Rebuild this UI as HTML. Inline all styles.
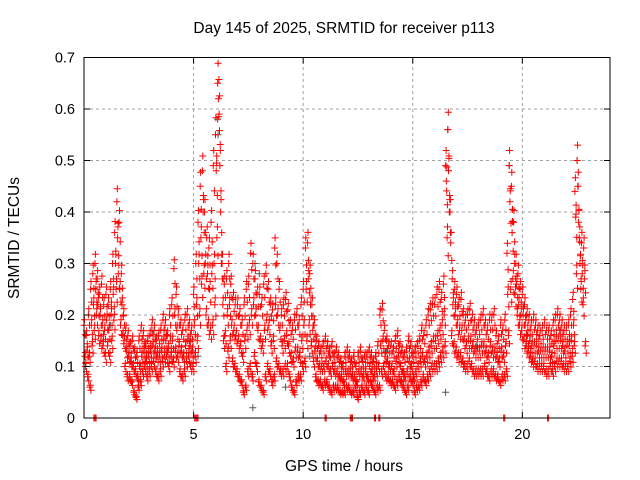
<!DOCTYPE html>
<html><head><meta charset="utf-8"><style>
body{margin:0;background:#fff;}
svg{display:block;font-family:"Liberation Sans",sans-serif;}
</style></head><body>
<svg id="chart" width="640" height="480" viewBox="0 0 640 480">
<rect width="640" height="480" fill="#fff"/>
<text x="344" y="33" text-anchor="middle" font-size="15.5" fill="#000">Day 145 of 2025, SRMTID for receiver p113</text>
<text x="344" y="471" text-anchor="middle" font-size="15.5" fill="#000">GPS time / hours</text>
<text transform="translate(19,238) rotate(-90)" text-anchor="middle" font-size="15.5" fill="#000">SRMTID / TECUs</text>
<g id="grid"></g>
<g id="gray"></g>
<g id="red"></g>
<g id="axes"></g>
</svg>
<script>
const xTicks=[0,5,10,15,20];
const yTicks=[0,0.1,0.2,0.3,0.4,0.5,0.6,0.7];
const yTickLabels=["0","0.1","0.2","0.3","0.4","0.5","0.6","0.7"];
const seriesA=[18,16,20,25,28,30,27,24,26,22,24,22,25,30,36,42,38,28,20,17,16,14,15,13,12,15,17,16,14,15,16,18,17,15,16,17,19,18,16,20,22,29,24,20,18,17,19,20,18,17,24,30,38,45,48,40,35,33,38,49,55,65,49,30,26,27,30,26,23,22,22,20,18,22,25,26,32,30,27,24,24,22,26,28,25,22,21,33,30,25,20,22,23,21,18,17,19,20,18,22,25,33,34,28,22,18,15,14,13,14,15,14,13,14,12,13,12,11,10,12,13,12,11,12,10,12,13,11,12,12,13,12,11,12,14,20,21,17,15,14,14,13,15,16,14,13,12,13,15,14,12,13,14,15,17,16,18,20,21,22,22,24,25,23,26,49,56,40,27,25,24,22,23,20,19,20,21,19,18,17,18,19,20,18,17,19,19,20,16,15,18,17,19,32,49,45,38,30,28,25,24,22,20,19,18,19,18,17,16,17,18,17,17,16,18,19,20,19,18,17,17,18,20,23,44,50,35,34,33];
const seriesB=[12,13,12,18,22,25,22,20,18,17,19,17,20,24,30,35,25,22,15,13,12,11,10,9,8,10,12,13,11,12,13,14,13,12,12,13,15,15,13,15,15,20,17,14,13,12,14,15,14,13,18,22,30,35,40,30,28,25,28,30,48,62,40,22,16,20,22,18,17,16,15,14,12,15,17,18,20,22,20,17,15,14,17,19,18,14,15,22,20,17,14,15,16,14,12,11,13,13,12,15,18,25,27,22,17,13,11,10,10,10,11,10,9,10,9,9,8,8,7,9,9,9,8,8,7,9,9,8,9,8,10,9,8,9,10,14,15,12,11,10,10,9,11,12,10,9,8,9,11,10,8,9,10,11,12,11,12,13,14,15,15,16,17,18,20,46,48,34,22,20,18,17,17,15,14,15,15,14,13,13,13,14,14,13,12,14,13,13,12,11,13,12,14,24,42,36,30,26,22,20,20,18,16,15,14,14,14,13,13,13,13,13,13,12,14,15,15,15,14,13,14,14,15,18,39,45,30,28,27];
const seriesC=[10,8,6,14,17,20,16,15,14,12,14,12,15,19,25,28,18,16,10,8,8,7,5,4,6,7,9,10,8,9,10,11,9,8,9,11,12,12,10,12,11,13,12,9,8,9,11,12,10,10,12,15,20,26,28,20,18,17,18,22,35,59,30,15,10,13,15,11,10,9,8,7,5,6,9,10,8,12,10,7,6,5,8,10,9,7,8,11,10,9,9,10,10,8,6,5,7,8,8,10,11,15,18,14,11,8,7,7,6,7,7,6,5,6,6,6,5,5,5,6,6,5,5,6,4,5,6,5,6,5,7,6,5,6,6,9,10,8,8,7,7,6,7,8,7,6,5,6,8,7,5,6,6,7,8,7,8,9,10,10,10,11,12,13,14,35,40,16,14,13,12,12,11,10,10,11,10,9,9,9,9,9,10,9,8,9,9,8,8,7,8,8,9,16,25,27,24,20,18,17,15,14,13,12,11,11,10,10,10,10,9,9,10,9,10,11,11,11,10,10,10,11,12,14,28,38,25,22,14];
const grayT=[6.1,6.12,16.6,19.4,22.5,7.7,7.8,8.0,5.2,9.2,16.5,11.2,3.1,4.8,13.8,20.8,21.7,1.2,2.6,10.3,14.6,17.9];
const grayV=[0.58,0.55,0.56,0.49,0.50,0.02,0.30,0.28,0.12,0.06,0.05,0.12,0.17,0.15,0.13,0.18,0.17,0.18,0.10,0.12,0.09,0.14];
const zeroT=[0.45,0.5,0.55,5.05,5.1,5.15,5.2,11.0,11.05,12.15,12.2,12.25,13.25,13.3,13.45,13.5,19.15,19.2,21.15,21.2];
const X0=84,X1=610,Y0=418,Y1=57.5,XMAX=24,YMAX=0.7;
const xs=t=>X0+(X1-X0)*t/XMAX;
const ys=v=>Y0-(Y0-Y1)*v/YMAX;
const NS="http://www.w3.org/2000/svg";
function mk(tag,parent){const e=document.createElementNS(NS,tag);parent.appendChild(e);return e;}
const grid=document.getElementById('grid'),axes=document.getElementById('axes');
xTicks.forEach(t=>{
 const x=xs(t);
 if(t>0){const l=mk('line',grid);l.setAttribute('x1',x);l.setAttribute('x2',x);l.setAttribute('y1',Y0);l.setAttribute('y2',Y1);l.setAttribute('stroke','#a0a0a0');l.setAttribute('stroke-dasharray','3,3');
 
 }
 [[Y0,Y0-6],[Y1,Y1+6]].forEach(p=>{const k=mk('line',axes);k.setAttribute('x1',x);k.setAttribute('x2',x);k.setAttribute('y1',p[0]);k.setAttribute('y2',p[1]);k.setAttribute('stroke','#000');
 
 });
 const tx=mk('text',axes);tx.setAttribute('x',x);tx.setAttribute('y',Y0+21);tx.setAttribute('text-anchor','middle');tx.setAttribute('font-size','14.5');tx.textContent=t;
 
 
});
yTicks.forEach((v,i)=>{
 const y=ys(v);
 if(v>0&&v<YMAX){const l=mk('line',grid);l.setAttribute('x1',X0);l.setAttribute('x2',X1);l.setAttribute('y1',y);l.setAttribute('y2',y);l.setAttribute('stroke','#a0a0a0');l.setAttribute('stroke-dasharray','3,3');
 
 }
 [[X0,X0+6],[X1,X1-6]].forEach(p=>{const k=mk('line',axes);k.setAttribute('x1',p[0]);k.setAttribute('x2',p[1]);k.setAttribute('y1',y);k.setAttribute('y2',y);k.setAttribute('stroke','#000');
 
 });
 const tx=mk('text',axes);tx.setAttribute('x',X0-9);tx.setAttribute('y',y+5);tx.setAttribute('text-anchor','end');tx.setAttribute('font-size','14.5');tx.textContent=yTickLabels[i];
 
 
});
const fr=mk('rect',axes);fr.setAttribute('x',X0);fr.setAttribute('y',Y1);fr.setAttribute('width',X1-X0);fr.setAttribute('height',Y0-Y1);fr.setAttribute('fill','none');fr.setAttribute('stroke','#000');


function plus(t,v){const x=xs(t),y=ys(v);return `M${(x-3.5).toFixed(1)} ${y.toFixed(1)}h7M${x.toFixed(1)} ${(y-3.5).toFixed(1)}v7`;}
let gd='';grayT.forEach((t,i)=>{gd+=plus(t,grayV[i]);});
const gp=mk('path',document.getElementById('gray'));gp.setAttribute('d',gd);gp.setAttribute('stroke','#555');gp.setAttribute('fill','none');


let rd='';
[seriesA,seriesB,seriesC].forEach((s,k)=>{s.forEach((v,i)=>{const t=i*0.1+k*0.033;rd+=plus(t,v/100);rd+=plus(t+0.05,(v*0.9)/100);rd+=plus(t+0.02,(v*1.06)/100);});});
zeroT.forEach(t=>{rd+=plus(t,0);});
const rp=mk('path',document.getElementById('red'));rp.setAttribute('d',rd);rp.setAttribute('stroke','#ff0000');rp.setAttribute('fill','none');


</script>
</body></html>
